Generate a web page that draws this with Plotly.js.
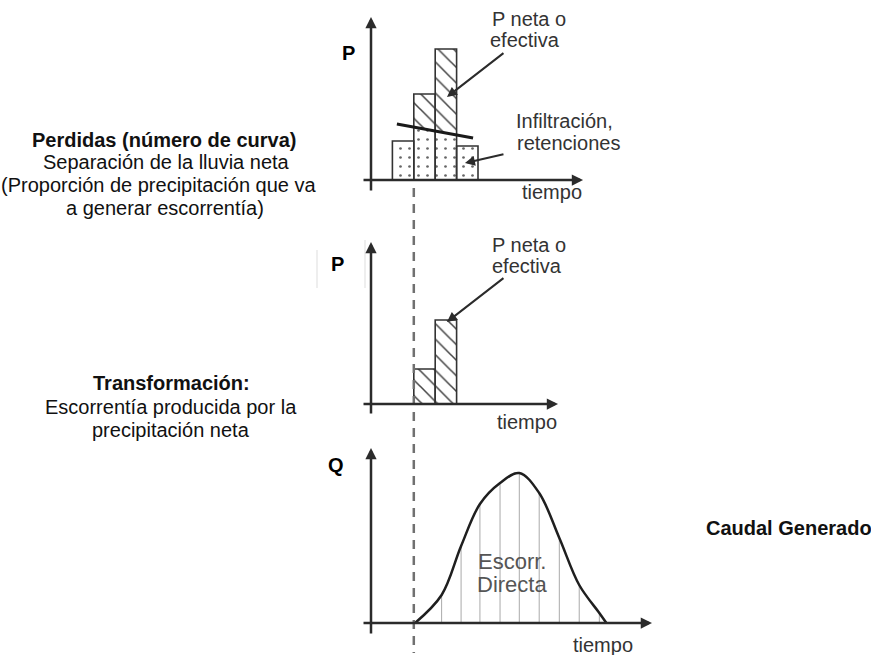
<!DOCTYPE html>
<html>
<head>
<meta charset="utf-8">
<script src="https://cdn.plot.ly/plotly-3.0.1.min.js"></script>
<style>html,body{margin:0;padding:0;background:#fff;}#chart{width:871px;height:655px;}</style>
</head>
<body>
<div id="chart"></div>
<script>
// ---- Data ----
// Hyetograph: start time of each interval (time units), total rainfall, losses, net rainfall
const tInicio = [1, 2, 3, 4];
const pTotal = [3.9, 8.6, 13.1, 3.4];
const pPerdidas = [3.9, 5.1, 4.7, 3.4];
const pNeta = [0, 3.5, 8.4, 0];
// Loss threshold line (infiltration / retention)
const tUmbral = [1.21, 4.77];
const pUmbral = [5.6, 4.2];
// Direct runoff hydrograph
const tQ = [2.06, 3.30, 4.21, 5.09, 6.03, 6.93, 7.86, 8.80, 9.73, 10.67, 11.0];
const qDirecto = [0, 2.8, 7.7, 11.9, 14.0, 15.0, 13.0, 8.5, 3.8, 1.0, 0];
// Start of net rainfall (dashed guide)
const tInicioNeta = 2.0;

// ---- Layout helpers (pixel -> paper) ----
const W = 871, H = 655;
const px = x => x / W;
const py = y => 1 - y / H;
const U = 21.4, X0 = 371;
const xr = [-X0 / U, (W - X0) / U];

const FONT = 'Liberation Sans, Arial, sans-serif';
const dark = '#2a2a2a';

const traces = [];
// Top chart: losses (dotted)
traces.push({type:'bar', x:tInicio, y:pPerdidas, offset:0, width:1, xaxis:'x', yaxis:'y',
  marker:{color:'white', line:{width:0}, pattern:{shape:'.', fgcolor:'#666', bgcolor:'white', size:9, solidity:0.07}},
  hoverinfo:'skip', showlegend:false});
// Top chart: net (hatched) stacked on losses
traces.push({type:'bar', x:tInicio, y:pNeta, base:pPerdidas, offset:0, width:1, xaxis:'x', yaxis:'y',
  marker:{color:'white', line:{width:0}, pattern:{shape:'\\', fgcolor:'#444', bgcolor:'white', size:11, solidity:0.14}},
  hoverinfo:'skip', showlegend:false});
// Top chart: outlines of total rainfall
traces.push({type:'bar', x:tInicio, y:pTotal, offset:0, width:1, xaxis:'x', yaxis:'y',
  marker:{color:'rgba(0,0,0,0)', line:{width:1.6, color:'#333'}},
  hoverinfo:'skip', showlegend:false});
// Top chart: threshold line
traces.push({type:'scatter', mode:'lines', x:tUmbral, y:pUmbral, xaxis:'x', yaxis:'y',
  line:{color:'#1a1a1a', width:3}, hoverinfo:'skip', showlegend:false});

// Middle chart: net rainfall bars
traces.push({type:'bar', x:tInicio, y:pNeta, offset:0, width:1, xaxis:'x2', yaxis:'y2',
  marker:{color:'white', line:{width:1.6, color:'#333'}, pattern:{shape:'\\', fgcolor:'#444', bgcolor:'white', size:11, solidity:0.14}},
  hoverinfo:'skip', showlegend:false});

// Bottom chart: vertical hatch lines under the hydrograph
const hx = [], hy = [];
for (let i = 1; i < tQ.length - 1; i++) { hx.push(tQ[i], tQ[i], null); hy.push(0, qDirecto[i], null); }
traces.push({type:'scatter', mode:'lines', x:hx, y:hy, xaxis:'x3', yaxis:'y3',
  line:{color:'#aaaaaa', width:1}, hoverinfo:'skip', showlegend:false, connectgaps:false});
// Bottom chart: hydrograph curve
traces.push({type:'scatter', mode:'lines', x:tQ, y:qDirecto, xaxis:'x3', yaxis:'y3',
  line:{color:'#1f1f1f', width:2.5, shape:'spline', smoothing:1}, hoverinfo:'skip', showlegend:false});

const hid = {visible:false, showgrid:false, zeroline:false, fixedrange:true};
const layout = {
  width:W, height:H, margin:{l:0, r:0, t:0, b:0},
  paper_bgcolor:'white', plot_bgcolor:'rgba(0,0,0,0)',
  barmode:'overlay', bargap:0, showlegend:false,
  font:{family:FONT, size:20, color:dark},
  xaxis: Object.assign({domain:[0,1], range:xr, anchor:'y'}, hid),
  xaxis2:Object.assign({domain:[0,1], range:xr, anchor:'y2'}, hid),
  xaxis3:Object.assign({domain:[0,1], range:xr, anchor:'y3'}, hid),
  yaxis: Object.assign({domain:[1-215/H, 1], range:[-3.5, 18], anchor:'x'}, hid),
  yaxis2:Object.assign({domain:[1-430/H, 1-215/H], range:[-2.6, 18.9], anchor:'x2'}, hid),
  yaxis3:Object.assign({domain:[0, 1-430/H], range:[-3.2, 19.3], anchor:'x3'}, hid),
  shapes:[
    {type:'line', xref:'x', yref:'paper', x0:tInicioNeta, x1:tInicioNeta, y0:py(188), y1:py(653),
     line:{color:'#707070', width:2.5, dash:'9px,7px'}},
    {type:'line', xref:'paper', yref:'paper', x0:px(317), x1:px(317), y0:py(250), y1:py(288), line:{color:'#dddddd', width:1}},
    {type:'line', xref:'paper', yref:'paper', x0:px(365), x1:px(365), y0:py(240), y1:py(288), line:{color:'#dddddd', width:1}}
  ],
  annotations:[]
};

const A = layout.annotations;
function arrow(xa, ya, x, y, tx, ty, w, s) {
  A.push({xref:xa, yref:ya, axref:xa, ayref:ya, x:x, y:y, ax:tx, ay:ty, text:'', showarrow:true,
    arrowhead:2, arrowsize:s, arrowwidth:w, arrowcolor:'#2b2b2b', standoff:0, startstandoff:0});
}
// Axes with arrowheads
arrow('x','y', 0, 16.3, 0, -1.2, 2.5, 0.9);
arrow('x','y', 9.91, 0, -0.42, 0, 2.5, 0.9);
arrow('x2','y2', 0, 16.2, 0, -1.1, 2.5, 0.9);
arrow('x2','y2', 8.74, 0, -0.42, 0, 2.5, 0.9);
arrow('x3','y3', 0, 17.5, 0, -1.2, 2.5, 0.9);
arrow('x3','y3', 13.13, 0, -0.42, 0, 2.5, 0.9);
// Pointer arrows
arrow('x','y', 3.55, 8.3, 6.26, 12.8, 2, 1);
arrow('x','y', 4.39, 1.7, 6.26, 2.6, 2, 1);
arrow('x2','y2', 3.55, 8.2, 6.26, 12.7, 2, 1);

function txt(s, x, y, opt) {
  opt = opt || {};
  A.push({xref:'paper', yref:'paper', x:px(x), y:py(y), text:s, showarrow:false,
    xanchor:opt.xa || 'center', yanchor:'middle',
    font:{family:FONT, size:opt.size || 20, color:opt.color || dark}});
}
// Chart labels
txt('<b>P</b>', 348, 53, {color:'#000'});
txt('P neta o', 529, 19, {color:'#333'});
txt('efectiva', 525, 40, {color:'#333'});
txt('Infiltración,', 514, 121, {xa:'left', color:'#333'});
txt('retenciones', 515, 143, {xa:'left', color:'#333'});
txt('tiempo', 552, 192, {color:'#333'});
txt('<b>P</b>', 337, 264, {color:'#000'});
txt('P neta o', 529, 245, {color:'#333'});
txt('efectiva', 527, 266, {color:'#333'});
txt('tiempo', 527, 422, {color:'#333'});
txt('<b>Q</b>', 336, 465, {color:'#000'});
txt('Escorr.', 512, 561, {size:22, color:'#555'});
txt('Directa', 512, 584, {size:22, color:'#555'});
txt('tiempo', 603, 645, {color:'#333'});
// Side descriptions
txt('<b>Perdidas (número de curva)</b>', 164, 140, {color:'#111'});
txt('Separación de la lluvia neta', 166, 162, {color:'#111'});
txt('(Proporción de precipitación que va', 159, 185, {color:'#111'});
txt('a generar escorrentía)', 165, 208, {color:'#111'});
txt('<b>Transformación:</b>', 171, 383, {color:'#111'});
txt('Escorrentía producida por la', 171, 407, {color:'#111'});
txt('precipitación neta', 171, 430, {color:'#111'});
txt('<b>Caudal Generado</b>', 789, 528, {color:'#111'});

Plotly.newPlot('chart', traces, layout, {displayModeBar:false, staticPlot:true});
</script>
</body>
</html>
